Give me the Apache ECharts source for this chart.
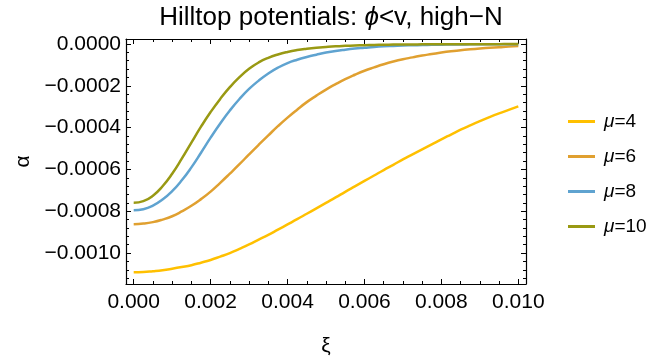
<!DOCTYPE html>
<html>
<head>
<meta charset="utf-8">
<script src="https://cdn.jsdelivr.net/npm/echarts@6/dist/echarts.min.js"></script>
<style>
html,body{margin:0;padding:0;background:#fff;}
#c{width:670px;height:362px;}
</style>
</head>
<body>
<div id="c"></div>
<script>
// ---- data ----
const xi = [0, 0.00025, 0.0005, 0.00075, 0.001, 0.00125, 0.0015, 0.00175, 0.002, 0.00225, 0.0025, 0.00275, 0.003, 0.00325, 0.0035, 0.00375, 0.004, 0.00425, 0.0045, 0.00475, 0.005, 0.00525, 0.0055, 0.00575, 0.006, 0.00625, 0.0065, 0.00675, 0.007, 0.00725, 0.0075, 0.00775, 0.008, 0.00825, 0.0085, 0.00875, 0.009, 0.00925, 0.0095, 0.00975, 0.010];
const mu4  = [-1092e-6, -1091e-6, -1087e-6, -1082e-6, -1075e-6, -1067e-6, -1058e-6, -1046e-6, -1033e-6, -1017e-6, -1000e-6, -980e-6, -959e-6, -936e-6, -913e-6, -888e-6, -863e-6, -838e-6, -812e-6, -786e-6, -760e-6, -734e-6, -707e-6, -681e-6, -655e-6, -629e-6, -603e-6, -578e-6, -552e-6, -528e-6, -504e-6, -480e-6, -456e-6, -433e-6, -410e-6, -389e-6, -369e-6, -350e-6, -332e-6, -315e-6, -298e-6];
const mu6  = [-862e-6, -859e-6, -852e-6, -840e-6, -824e-6, -801e-6, -774e-6, -742e-6, -706e-6, -664e-6, -620e-6, -575e-6, -528e-6, -482e-6, -437e-6, -393e-6, -352e-6, -314e-6, -278e-6, -247e-6, -218e-6, -192e-6, -168e-6, -147e-6, -128e-6, -112e-6, -97e-6, -84e-6, -73e-6, -64e-6, -55e-6, -48e-6, -41e-6, -35e-6, -30e-6, -25e-6, -21e-6, -18e-6, -15e-6, -12e-6, -10e-6];
const mu8  = [-795e-6, -790e-6, -773e-6, -744e-6, -704e-6, -652e-6, -590e-6, -520e-6, -448e-6, -380e-6, -318e-6, -263e-6, -215e-6, -175e-6, -141e-6, -113e-6, -91e-6, -75e-6, -62e-6, -51e-6, -41e-6, -33e-6, -27e-6, -22e-6, -18e-6, -14e-6, -11e-6, -9e-6, -7e-6, -6e-6, -5e-6, -4e-6, -3e-6, -2.5e-6, -2e-6, -1.7e-6, -1.5e-6, -1.2e-6, -1e-6, -1e-6, -1e-6];
const mu10 = [-759e-6, -751.5e-6, -725.5e-6, -680.5e-6, -620.5e-6, -548.5e-6, -471.5e-6, -395.5e-6, -325.5e-6, -262.5e-6, -206.5e-6, -158.5e-6, -118.5e-6, -88e-6, -66e-6, -50e-6, -38e-6, -29e-6, -22.5e-6, -17.5e-6, -14e-6, -11e-6, -8.8e-6, -7e-6, -5.6e-6, -4.5e-6, -3.6e-6, -2.9e-6, -2.4e-6, -2e-6, -1.7e-6, -1.4e-6, -1.2e-6, -1e-6, -0.9e-6, -0.8e-6, -0.7e-6, -0.6e-6, -0.55e-6, -0.5e-6, -0.5e-6];
const seriesNames = ['μ=4', 'μ=6', 'μ=8', 'μ=10'];
const seriesValues = [mu4, mu6, mu8, mu10];
const colors = ['#FFC000', '#E0A030', '#5FA3D0', '#999913'];

const xMajor = [0, 0.002, 0.004, 0.006, 0.008, 0.010];
const xMinor = [0.0005, 0.001, 0.0015, 0.0025, 0.003, 0.0035, 0.0045, 0.005, 0.0055, 0.0065, 0.007, 0.0075, 0.0085, 0.009, 0.0095];
const yMajor = [0, -0.0002, -0.0004, -0.0006, -0.0008, -0.0010];
const yMinor = [-0.00004, -0.00008, -0.00012, -0.00016, -0.00024, -0.00028, -0.00032, -0.00036, -0.00044, -0.00048, -0.00052, -0.00056, -0.00064, -0.00068, -0.00072, -0.00076, -0.00084, -0.00088, -0.00092, -0.00096, -0.00104, -0.00108, -0.00112];

const FONT = '"Liberation Sans", Arial, sans-serif';
const chart = echarts.init(document.getElementById('c'));

const xRange = {min: -0.0002, max: 0.0102};
const yRange = {min: -0.001148, max: 0.000024};
const lineStyle = {color: '#000', width: 1.2};

function xAxisDef(pos, ticks, len, labels, showLine) {
  return Object.assign({
    type: 'value', position: pos, gridIndex: 0,
    axisLine: {show: showLine, onZero: false, lineStyle},
    axisTick: {show: true, inside: true, length: len, customValues: ticks, lineStyle: {color: '#000', width: 1}},
    axisLabel: labels ? {show: true, customValues: xMajor, formatter: v => v.toFixed(3), fontSize: 21, color: '#000', fontFamily: FONT, margin: 8} : {show: false},
    splitLine: {show: false}
  }, xRange);
}
function yAxisDef(pos, ticks, len, labels, showLine) {
  return Object.assign({
    type: 'value', position: pos, gridIndex: 0,
    axisLine: {show: showLine, onZero: false, lineStyle},
    axisTick: {show: true, inside: true, length: len, customValues: ticks, lineStyle: {color: '#000', width: 1}},
    axisLabel: labels ? {show: true, customValues: yMajor, formatter: v => (v < -1e-12 ? '\u2212' : '') + Math.abs(v).toFixed(4), fontSize: 21, color: '#000', fontFamily: FONT, margin: 5} : {show: false},
    splitLine: {show: false}
  }, yRange);
}

const xAxes = [
  Object.assign(xAxisDef('bottom', xMajor, 5, true, true), {name: 'ξ', nameLocation: 'middle', nameGap: 52, nameTextStyle: {fontSize: 21, color: '#000', fontFamily: FONT}}),
  xAxisDef('bottom', xMinor, 3, false, false),
  xAxisDef('top', xMajor, 5, false, true),
  xAxisDef('top', xMinor, 3, false, false)
];
const yAxes = [
  Object.assign(yAxisDef('left', yMajor, 5, true, true), {name: 'α', nameLocation: 'middle', nameGap: 92, nameRotate: 90, nameTextStyle: {fontSize: 21, color: '#000', fontFamily: FONT}}),
  yAxisDef('left', yMinor, 3, false, false),
  yAxisDef('right', yMajor, 5, false, true),
  yAxisDef('right', yMinor, 3, false, false)
];

const series = seriesNames.map((name, i) => ({
  name, type: 'line', xAxisIndex: 0, yAxisIndex: 0,
  data: xi.map((x, j) => [x, seriesValues[i][j]]),
  smooth: 0.5, showSymbol: false, symbol: 'none',
  lineStyle: {color: colors[i], width: 2.5},
  itemStyle: {color: colors[i]},
  emphasis: {disabled: true}
}));

chart.setOption({
  animation: false,
  backgroundColor: '#fff',
  title: {
    text: '{n|Hilltop potentials: }{i|ϕ}{n|<v, high\u2212N}',
    left: 326, top: 0, textAlign: 'center',
    textStyle: {
      fontWeight: 'normal',
      rich: {
        n: {fontSize: 26, color: '#000', fontFamily: FONT, fontWeight: 'normal'},
        i: {fontSize: 26, color: '#000', fontFamily: FONT, fontStyle: 'italic', fontWeight: 'normal'}
      }
    }
  },
  grid: {left: 126, right: 144, top: 39, bottom: 77},
  xAxis: xAxes,
  yAxis: yAxes,
  legend: {
    orient: 'vertical', left: 568, top: 112, padding: 0,
    itemWidth: 27, itemHeight: 3, itemGap: 16, icon: 'rect',
    data: seriesNames,
    formatter: name => '{i|μ}{n|' + name.slice(1) + '}',
    textStyle: {
      padding: [0, 0, 0, 4],
      rich: {
        n: {fontSize: 19, color: '#000', fontFamily: FONT},
        i: {fontSize: 19, color: '#000', fontFamily: FONT, fontStyle: 'italic'}
      }
    }
  },
  series
});
</script>
</body>
</html>
